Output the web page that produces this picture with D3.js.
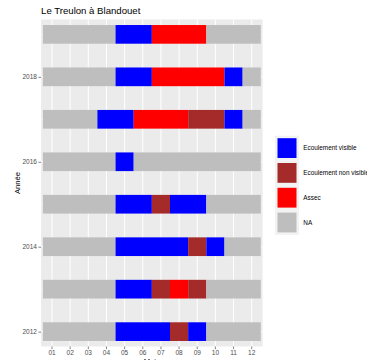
<!DOCTYPE html>
<html>
<head>
<meta charset="utf-8">
<script src="https://cdn.jsdelivr.net/npm/d3@7"></script>
<style>
  body { margin: 0; background: #fff; }
  svg { display: block; font-family: "Liberation Sans", Arial, sans-serif; }
</style>
</head>
<body>
<div id="chart"></div>
<script>
// months on x, years on y
var months = ["01", "02", "03", "04", "05", "06", "07", "08", "09", "10", "11", "12"];
var years = [2012, 2013, 2014, 2015, 2016, 2017, 2018, 2019];
var yearTicks = [2012, 2014, 2016, 2018];

var categories = ["Ecoulement visible", "Ecoulement non visible", "Assec", "NA"];
var colors = ["#0000ff", "#a52a2a", "#ff0000", "#bebebe"];

// one status per month (index into categories)
var s2012 = [3, 3, 3, 3, 0, 0, 0, 1, 0, 3, 3, 3];
var s2013 = [3, 3, 3, 3, 0, 0, 1, 2, 1, 3, 3, 3];
var s2014 = [3, 3, 3, 3, 0, 0, 0, 0, 1, 0, 3, 3];
var s2015 = [3, 3, 3, 3, 0, 0, 1, 0, 0, 3, 3, 3];
var s2016 = [3, 3, 3, 3, 0, 3, 3, 3, 3, 3, 3, 3];
var s2017 = [3, 3, 3, 0, 0, 2, 2, 2, 1, 1, 0, 3];
var s2018 = [3, 3, 3, 3, 0, 0, 2, 2, 2, 2, 0, 3];
var s2019 = [3, 3, 3, 3, 0, 0, 2, 2, 2, 3, 3, 3];
var statuses = [s2012, s2013, s2014, s2015, s2016, s2017, s2018, s2019];

var W = 367, H = 360;
var panel = {left: 41.1, right: 262.6, top: 19.5, bottom: 346.5};

var svg = d3.select("#chart")
    .append("svg")
        .attr("width", W)
        .attr("height", H);

var x = d3.scaleBand()
        .domain(months)
        .range([panel.left, panel.right])
        .paddingInner(0)
        .paddingOuter(0.1);

var y = d3.scaleLinear()
        .domain([2011.65, 2019.35])
        .range([panel.bottom, panel.top]);

var color = d3.scaleOrdinal()
        .domain(d3.range(categories.length))
        .range(colors);

var barH = 0.44;  // in years

// panel background + grid
svg.append("rect")
    .attr("x", panel.left)
    .attr("y", panel.top)
    .attr("width", panel.right - panel.left)
    .attr("height", panel.bottom - panel.top)
    .attr("fill", "#ebebeb");

svg.selectAll(".hminor")
    .data([2013, 2015, 2017, 2019])
    .enter().append("line")
        .attr("x1", panel.left).attr("x2", panel.right)
        .attr("y1", function(d) { return y(d) }).attr("y2", function(d) { return y(d) })
        .attr("stroke", "#fff").attr("stroke-width", 0.5);

svg.selectAll(".hmajor")
    .data(yearTicks)
    .enter().append("line")
        .attr("x1", panel.left).attr("x2", panel.right)
        .attr("y1", function(d) { return y(d) }).attr("y2", function(d) { return y(d) })
        .attr("stroke", "#fff").attr("stroke-width", 1);

svg.selectAll(".vmajor")
    .data(months)
    .enter().append("line")
        .attr("x1", function(d) { return x(d) + x.bandwidth() / 2 })
        .attr("x2", function(d) { return x(d) + x.bandwidth() / 2 })
        .attr("y1", panel.top).attr("y2", panel.bottom)
        .attr("stroke", "#fff").attr("stroke-width", 1);

// merge consecutive months with the same status into one segment
function runs(year, st) {
    var out = [];
    var start = 0;
    for (var i = 1; i <= st.length; i++) {
        if (i == st.length || st[i] != st[start]) {
            out.push({year: year, from: months[start], to: months[i - 1], status: st[start]});
            start = i;
        }
    }
    return out;
}

var segments = [];
years.forEach(function(yr, i) {
    segments = segments.concat(runs(yr, statuses[i]));
});

svg.selectAll(".seg")
    .data(segments)
    .enter().append("rect")
        .attr("class", "seg")
        .attr("x", function(d) { return x(d.from) })
        .attr("width", function(d) { return x(d.to) + x.bandwidth() - x(d.from) })
        .attr("y", function(d) { return y(d.year + barH / 2) })
        .attr("height", function(d) { return y(d.year - barH / 2) - y(d.year + barH / 2) })
        .attr("fill", function(d) { return color(d.status) });

// axes
var xAxis = svg.append("g")
    .attr("transform", "translate(0," + panel.bottom + ")")
    .call(d3.axisBottom(x).tickSize(2.7).tickPadding(1.5));

var yAxis = svg.append("g")
    .attr("transform", "translate(" + panel.left + ",0)")
    .call(d3.axisLeft(y).tickValues(yearTicks).tickFormat(d3.format("d")).tickSize(2.7).tickPadding(1.5));

[xAxis, yAxis].forEach(function(a) {
    a.select(".domain").remove();
    a.selectAll(".tick line").attr("stroke", "#333333").attr("stroke-width", 0.6);
    a.selectAll(".tick text")
        .attr("fill", "#4d4d4d")
        .style("font-size", "6.5px")
        .style("font-family", "Liberation Sans, Arial, sans-serif");
});

// titles
svg.append("text")
    .attr("x", panel.left)
    .attr("y", 14.2)
    .style("font-size", "9.6px")
    .attr("fill", "#000")
    .text("Le Treulon à Blandouet");

svg.append("text")
    .attr("transform", "translate(19.5," + (panel.top + panel.bottom) / 2 + ") rotate(-90)")
    .attr("text-anchor", "middle")
    .style("font-size", "7.6px")
    .attr("fill", "#000")
    .text("Année");

svg.append("text")
    .attr("x", (panel.left + panel.right) / 2)
    .attr("y", 364)
    .attr("text-anchor", "middle")
    .style("font-size", "7.6px")
    .attr("fill", "#000")
    .text("Mois");

// legend
var keySize = 24.8, keyX = 275, keyY = 135.7, inset = 2.5;

var legend = svg.selectAll(".key")
    .data(categories)
    .enter().append("g")
        .attr("class", "key")
        .attr("transform", function(d, i) { return "translate(" + keyX + "," + (keyY + i * keySize) + ")" });

legend.append("rect")
    .attr("width", 24)
    .attr("height", keySize)
    .attr("fill", "#f2f2f2");

legend.append("rect")
    .attr("x", inset)
    .attr("y", inset)
    .attr("width", 24 - 2 * inset)
    .attr("height", keySize - 2 * inset)
    .attr("fill", function(d, i) { return color(i) });

legend.append("text")
    .attr("x", 28.3)
    .attr("y", keySize / 2 + 2.3)
    .style("font-size", "6.4px")
    .attr("fill", "#000")
    .text(function(d) { return d });
</script>
</body>
</html>
